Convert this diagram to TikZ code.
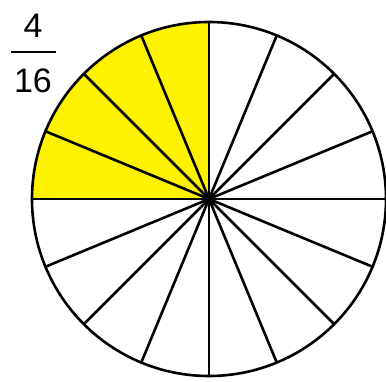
\documentclass[tikz,border=0pt]{standalone}
\usepackage{fontspec}
\setmainfont{Liberation Sans}
\begin{document}
\begin{tikzpicture}[x=1pt,y=1pt,
  spoke/.style={line width=2.6pt},
  rim/.style={line width=2.6pt},
  fractxt/.style={font=\fontsize{34}{36}\selectfont, inner sep=0pt, anchor=base}]
\useasboundingbox (0,0) rectangle (386,381);
\coordinate (c) at (209,182);
\fill[yellow] (c) -- (209,359) arc (90:180:177) -- cycle;
\foreach \i in {0,...,15} {
  \draw[spoke] (c) -- ++({\i*22.5}:177);
}
\draw[rim] (c) circle (177);
\node[fractxt] (num) at (33,343) {4};
\node[fractxt] (den) at (33,288) {16};
\coordinate (barl) at (11,329);
\coordinate (barr) at (56,329);
\draw[line width=2.6pt] (barl) -- (barr);
\end{tikzpicture}
\end{document}
